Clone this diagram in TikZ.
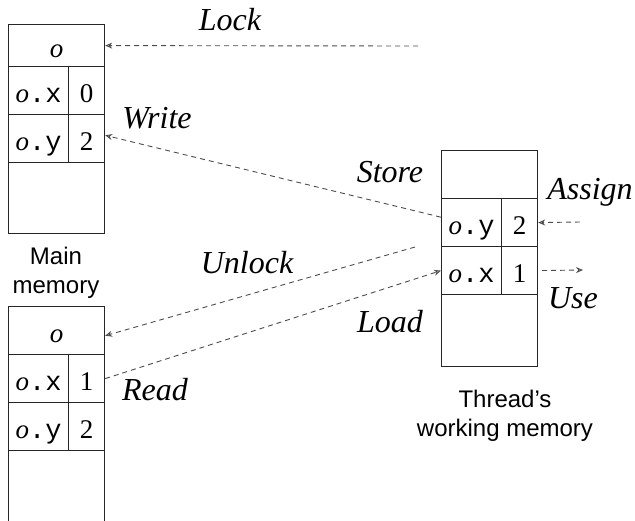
\documentclass[tikz,border=0pt]{standalone}
\usepackage{fontspec}
\setmainfont{Liberation Serif}
\setsansfont{Liberation Sans}
\setmonofont{Liberation Mono}
\usetikzlibrary{arrows.meta}
\tikzset{
  cell/.style={draw=black!85,line width=0.6pt,inner sep=0pt,minimum height=24pt,text height=11.5pt,text depth=0pt,font=\fontsize{13.5}{15}\selectfont},
  namecell/.style={cell,minimum width=30pt},
  valcell/.style={cell,minimum width=18pt},
  widecell/.style={cell,minimum width=48pt},
  op/.style={font=\fontsize{16}{18}\selectfont\itshape},
  caption/.style={align=center,font=\sffamily\fontsize{12}{14.5}\selectfont},
  flow/.style={draw=black!70,line width=0.45pt,dash pattern=on 2.5pt off 2pt,-{Stealth[open,length=3.5pt,width=3pt]}}
}
\begin{document}
\begin{tikzpicture}[x=0.5pt,y=-0.5pt]
\clip (0,0) rectangle (635,520);

\node[widecell,minimum height=21pt,anchor=north west] (mo) at (8,24) {\textit{o}};
\node[namecell,anchor=north west] (mxn) at (8,66) {\textit{o}\texttt{.x}};
\node[valcell,anchor=north west] (mxv) at (68,66) {0};
\node[namecell,anchor=north west] (myn) at (8,114) {\textit{o}\texttt{.y}};
\node[valcell,anchor=north west] (myv) at (68,114) {2};
\node[widecell,minimum height=35.5pt,anchor=north west] (mfree) at (8,162) {};

\node[widecell,anchor=north west] (bo) at (8,306) {\textit{o}};
\node[namecell,anchor=north west] (bxn) at (8,354) {\textit{o}\texttt{.x}};
\node[valcell,anchor=north west] (bxv) at (68,354) {1};
\node[namecell,anchor=north west] (byn) at (8,402) {\textit{o}\texttt{.y}};
\node[valcell,anchor=north west] (byv) at (68,402) {2};
\node[widecell,minimum height=50pt,anchor=north west] (bfree) at (8,450) {};

\node[widecell,anchor=north west] (tfree) at (441,150) {};
\node[namecell,anchor=north west] (tyn) at (441,198) {\textit{o}\texttt{.y}};
\node[valcell,anchor=north west] (tyv) at (501,198) {2};
\node[namecell,anchor=north west] (txn) at (441,246) {\textit{o}\texttt{.x}};
\node[valcell,anchor=north west] (txv) at (501,246) {1};
\node[widecell,minimum height=36pt,anchor=north west] (tbot) at (441,294) {};

\node[caption] (maincap) at (56,273) {Main\\memory};
\node[caption] (threadcap) at (505,416) {Thread’s\\working memory};

\node[op] (lock) at (230,20) {Lock};
\node[op] (write) at (157,118) {Write};
\node[op] (store) at (390,172) {Store};
\node[op] (assign) at (590,192) {Assign};
\node[op] (unlock) at (247,263) {Unlock};
\node[op] (use) at (573,298) {Use};
\node[op] (load) at (390,322) {Load};
\node[op] (read) at (155,390) {Read};

\coordinate (lockfrom) at (418,46);
\coordinate (unlockfrom) at (415,247);
\coordinate (assignfrom) at (580,222);
\coordinate (useto) at (583,270);

\draw[flow] (lockfrom) -- (mo.east);
\draw[flow] (tyn.170) -- (myv.10);
\draw[flow] (unlockfrom) -- (bo.354);
\draw[flow] (bxv.east) -- (txn.west);
\draw[flow] (assignfrom) -- (tyv.east);
\draw[flow,shorten <=2pt] (txv.east) -- (useto);
\end{tikzpicture}
\end{document}
